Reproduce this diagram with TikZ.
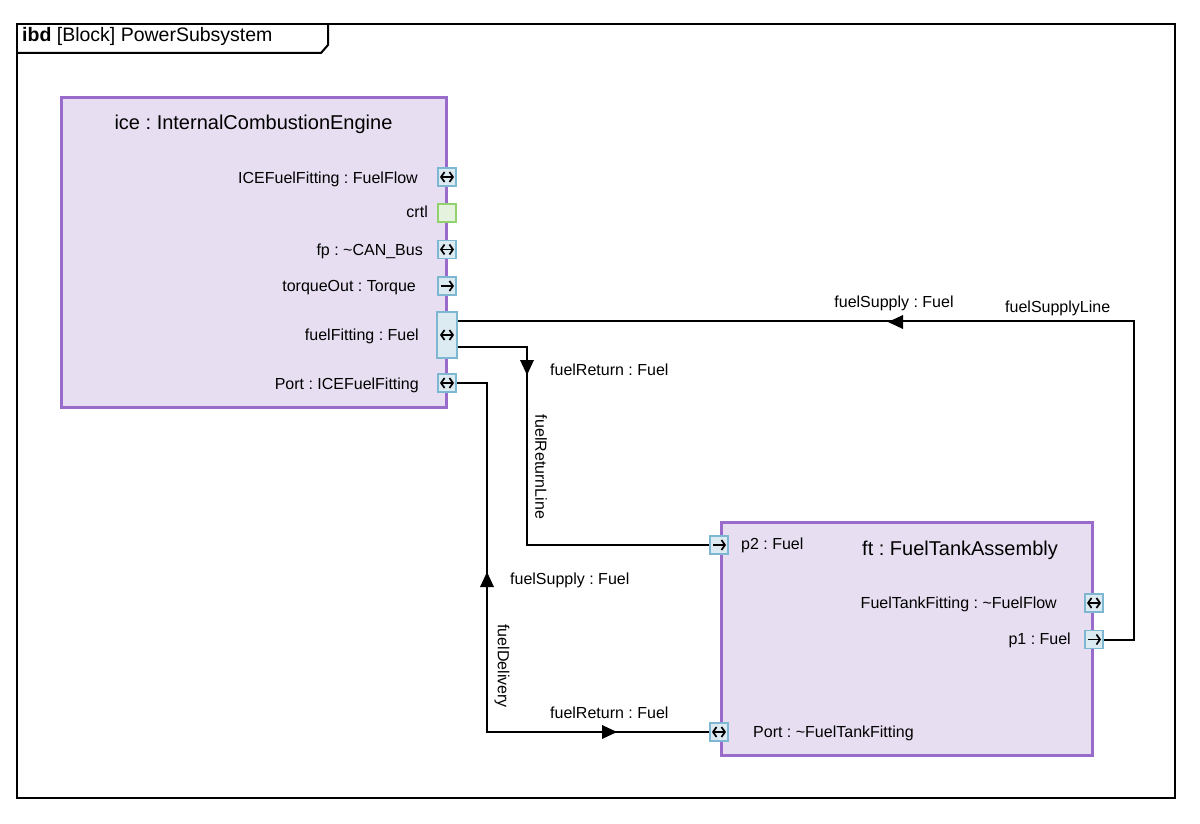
\documentclass[tikz,border=0pt]{standalone}
\usepackage{fontspec}
\setmainfont{Liberation Sans}
\usetikzlibrary{arrows.meta,calc}
\definecolor{blkborder}{RGB}{153,108,204}
\definecolor{blkfill}{RGB}{231,223,241}
\definecolor{portborder}{RGB}{125,183,210}
\definecolor{portfill}{RGB}{220,234,242}
\definecolor{grnborder}{RGB}{145,210,110}
\definecolor{grnfill}{RGB}{229,242,221}
\newcommand\flowtri[2]{\fill[shift={#1},rotate=#2] (0,0) -- (-15,7) -- (-15,-7) -- cycle;}
\frenchspacing
\begin{document}
\begin{tikzpicture}[x=1pt,y=-1pt,
  block/.style={draw=blkborder, fill=blkfill, line width=3pt, inner sep=0pt},
  port/.style={draw=portborder, fill=portfill, line width=1.5pt, minimum width=18pt, minimum height=18pt, inner sep=0pt},
  ctlport/.style={port, draw=grnborder, fill=grnfill},
  lbl/.style={font=\fontsize{16}{19}\selectfont, inner sep=0pt},
  ttl/.style={font=\fontsize{20}{24}\selectfont, inner sep=0pt},
  conn/.style={line width=2pt, line join=miter},
  bisym/.style={line width=1.7pt, arrows={Straight Barb[length=3.5pt,width=10pt]-Straight Barb[length=3.5pt,width=10pt]}},
  outsym/.style={line width=1.7pt, arrows={-Straight Barb[length=3.5pt,width=10pt]}},
  ]
\useasboundingbox (0,0) rectangle (1200,824);
\fill[white] (0,0) rectangle (1200,824);
% frame
\draw[line width=2pt] (17,24) rectangle (1175,798);
\draw[line width=2pt, line join=miter] (17,53) -- (321,53) -- (328,45) -- (328,24);
\node[anchor=base west, inner sep=0pt, font=\fontsize{19.5}{23}\selectfont] (frametitle) at (22,42) {\textbf{ibd} [Block] PowerSubsystem};
% blocks
\node[block, anchor=north west, minimum width=385pt, minimum height=310pt] (ice) at (60,96) {};
\node[block, anchor=north west, minimum width=371pt, minimum height=233pt] (ft) at (720,521) {};
\node[ttl, anchor=base] (icetitle) at (253.5,130) {ice : InternalCombustionEngine};
\node[ttl, anchor=base west] (fttitle) at (862,555) {ft : FuelTankAssembly};
% connectors
\node[port, minimum width=20pt, minimum height=46pt] (pE) at (447,335) {};
\node[port] (pF) at (447,383) {};
\node[port] (qA) at (719,545) {};
\node[port] (qB) at (1094,603) {};
\node[port] (qC) at (1094,639.5) {};
\node[port] (qD) at (719,732) {};
\coordinate (ffTop) at ([yshift=-10pt]pE.north east);
\coordinate (ffBot) at ([yshift=12pt]pE.south east);
\coordinate (rA) at (527,450);
\coordinate (dA) at (487,600);
\draw[conn] (qC.east) -| ($(ffTop -| qC.east)+(30,0)$) -- (ffTop);
\draw[conn] (ffBot) -| (rA) |- (qA.west);
\draw[conn] (pF.east) -| (dA) |- (qD.west);
\flowtri{(888,322)}{180}
\flowtri{(527,375)}{-90}
\flowtri{(487,572)}{90}
\flowtri{(617,732)}{0}
% ports (drawn over connectors)
\node[port] (pA) at (447,177) {};
\node[ctlport] (pB) at (447,213) {};
\node[port] (pC) at (447,249.5) {};
\node[port] (pD) at (447,286) {};
\node[port, minimum width=20pt, minimum height=46pt] at (pE) {};
\node[port] at (pF) {};
\node[port] at (qA) {};
\node[port] at (qC) {};
\node[port] at (qD) {};
\node[lbl, anchor=base east] (lA) at (418,183) {ICEFuelFitting : FuelFlow};
\node[lbl, anchor=base east] (lB) at (428,218) {crtl};
\node[lbl, anchor=base east] (lC) at (423,255) {fp : \textasciitilde CAN\_Bus};
\node[lbl, anchor=base east] (lD) at (416,291) {torqueOut : Torque};
\node[lbl, anchor=base east] (lE) at (419,340) {fuelFitting : Fuel};
\node[lbl, anchor=base east] (lF) at (419,389) {Port : ICEFuelFitting};
\node[lbl, anchor=base west] (mA) at (741,549) {p2 : Fuel};
\node[lbl, anchor=base east] (mB) at (1057,608) {FuelTankFitting : \textasciitilde FuelFlow};
\node[lbl, anchor=base east] (mC) at (1071,644) {p1 : Fuel};
\node[lbl, anchor=base west] (mD) at (753,737) {Port : \textasciitilde FuelTankFitting};
% port symbols
\draw[bisym] ([xshift=-7pt]pA.center) -- ([xshift=7pt]pA.center);
\draw[bisym] ([xshift=-7pt]pC.center) -- ([xshift=7pt]pC.center);
\draw[outsym] ([xshift=-6pt]pD.center) -- ([xshift=7pt]pD.center);
\draw[bisym] ([xshift=-7pt]pE.center) -- ([xshift=7pt]pE.center);
\draw[bisym] ([xshift=-7pt]pF.center) -- ([xshift=7pt]pF.center);
\draw[outsym] ([xshift=-6pt]qA.center) -- ([xshift=7pt]qA.center);
\draw[bisym] ([xshift=-7pt]qB.center) -- ([xshift=7pt]qB.center);
\draw[outsym] ([xshift=-6pt]qC.center) -- ([xshift=7pt]qC.center);
\draw[bisym] ([xshift=-7pt]qD.center) -- ([xshift=7pt]qD.center);
% connector labels
\node[lbl, anchor=base] (c1) at (894,307) {fuelSupply : Fuel};
\node[lbl, anchor=base west] (c2) at (1005,312) {fuelSupplyLine};
\node[lbl, anchor=base west] (c3) at (550,375) {fuelReturn : Fuel};
\node[lbl, rotate=-90] (c4) at (541,467) {fuelReturnLine};
\node[lbl, anchor=base west] (c5) at (510,584) {fuelSupply : Fuel};
\node[lbl, rotate=-90] (c6) at (502,666) {fuelDelivery};
\node[lbl, anchor=base west] (c7) at (550,718) {fuelReturn : Fuel};
\end{tikzpicture}
\end{document}
